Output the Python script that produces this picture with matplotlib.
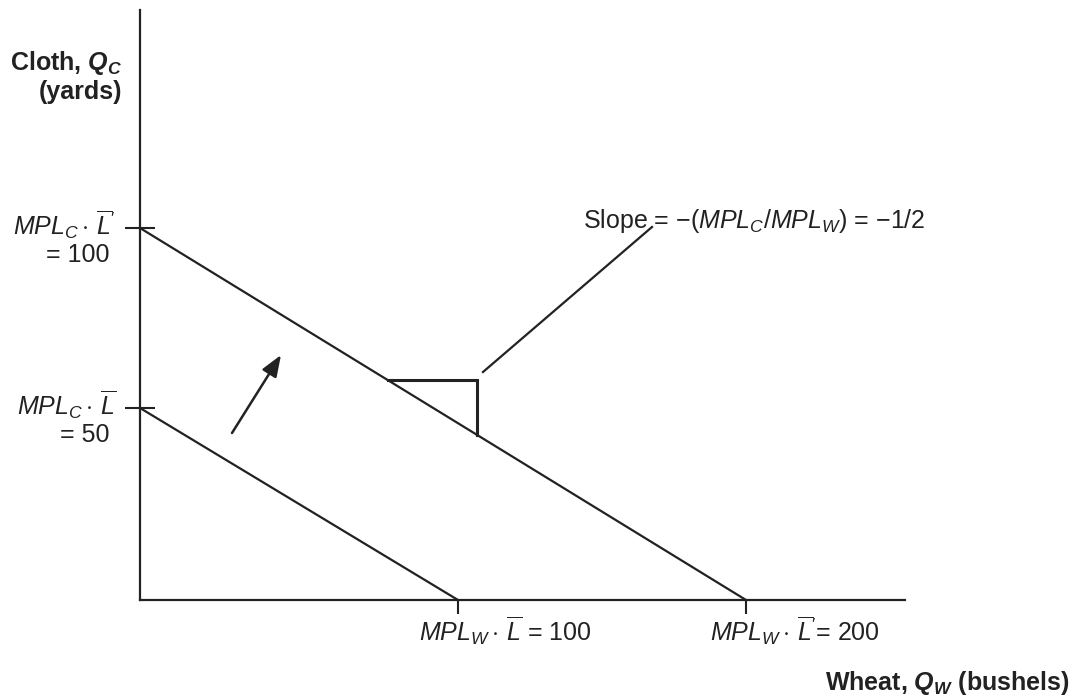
import numpy as np
import matplotlib
matplotlib.use('Agg')
import matplotlib.pyplot as plt
from matplotlib.lines import Line2D

plt.rcParams['font.family'] = ['Liberation Sans', 'DejaVu Sans']
plt.rcParams['mathtext.fontset'] = 'custom'
plt.rcParams['mathtext.rm'] = 'Liberation Sans'
plt.rcParams['mathtext.it'] = 'Liberation Sans:italic'
plt.rcParams['mathtext.bf'] = 'Liberation Sans:bold'
plt.rcParams['mathtext.bfit'] = 'Liberation Sans:bold:italic'

# production possibility frontiers (before / after labour increase)
wheat_max = [100, 200]     # MPL_W * L, MPL_W * L'
cloth_max = [50, 100]      # MPL_C * L, MPL_C * L'
x_tick_labels = [r"$MPL_W\cdot\,\overline{L}$ = 100", r"$MPL_W\cdot\,\overline{L}'$= 200"]
y_tick_labels = [(r"$MPL_C\cdot\,\overline{L}$", "= 50"), (r"$MPL_C\cdot\,\overline{L}'$", "= 100")]

W, H = 1073, 700
fig = plt.figure(figsize=(W / 100, H / 100), dpi=100)


def fx(px):
    return px / W


def fy(py):
    return 1 - py / H


# schematic (not-to-scale) axes, as in the textbook figure
xk = [0, 100, 200, 400]
xp = [0, 318, 606, 1182]
yk = [0, 50, 100, 300]
yp = [0, 192, 372, 1092]

ax = fig.add_axes([fx(140), fy(600), (905 - 140) / W, (600 - 10) / H])
ax.set_xscale('function', functions=(lambda v: np.interp(v, xk, xp),
                                     lambda v: np.interp(v, xp, xk)))
ax.set_yscale('function', functions=(lambda v: np.interp(v, yk, yp),
                                     lambda v: np.interp(v, yp, yk)))
ax.set_xlim(0, np.interp(765, xp, xk))
ax.set_ylim(0, np.interp(590, yp, yk))

for w, c in zip(wheat_max, cloth_max):
    ax.plot([0, w], [c, 0], color='#222222', lw=1.6, clip_on=False)

for side in ['top', 'right']:
    ax.spines[side].set_visible(False)
for side in ['left', 'bottom']:
    ax.spines[side].set_linewidth(1.6)
    ax.spines[side].set_color('#222222')

ax.set_xticks(wheat_max)
ax.set_xticklabels([])
ax.set_yticks(cloth_max)
ax.set_yticklabels([])
ax.tick_params(axis='x', direction='out', length=10, width=1.5, color='#222222')
ax.tick_params(axis='y', direction='inout', length=22, width=1.5, color='#222222')
ax.minorticks_off()

fs = 18
ink = '#222222'

# tick labels
x_centres = [505, 795]
for w, lab, xc in zip(wheat_max, x_tick_labels, x_centres):
    fig.text(fx(xc), fy(631), lab, ha='center', va='center', fontsize=fs, color=ink)
for c, (l1, l2) in zip(cloth_max, y_tick_labels):
    ypx = fig.transFigure.inverted().transform(ax.transData.transform((0, c)))[1]
    fig.text(fx(116), ypx + 3 / H, l1, ha='right', va='center', fontsize=fs, color=ink)
    fig.text(fx(110), ypx - 27 / H, l2, ha='right', va='center', fontsize=fs, color=ink)

# axis titles
fig.text(fx(122), fy(63), r"Cloth, $\mathbfit{Q_C}$", ha='right', va='center',
         fontsize=fs, fontweight='bold', color=ink)
fig.text(fx(122), fy(92), "(yards)", ha='right', va='center',
         fontsize=fs, fontweight='bold', color=ink)
fig.text(fx(1070), fy(683), r"Wheat, $\mathbfit{Q_W}$ (bushels)", ha='right', va='center',
         fontsize=fs, fontweight='bold', color=ink)

# slope triangle on the outer frontier
p0 = ax.transAxes.inverted().transform(ax.transData.transform((0, cloth_max[1])))
p1 = ax.transAxes.inverted().transform(ax.transData.transform((wheat_max[1], 0)))
a = p0 + 0.409 * (p1 - p0)
b = p0 + 0.556 * (p1 - p0)
ax.plot([a[0], b[0], b[0]], [a[1], a[1], b[1]], transform=ax.transAxes,
        color=ink, lw=2.2, solid_joinstyle='miter')

# slope callout
fig.add_artist(Line2D([fx(483), fx(652)], [fy(372), fy(227)], transform=fig.transFigure,
                      color=ink, lw=1.6))
fig.text(fx(583), fy(228), r"Slope = $-$($MPL_C$/$MPL_W$) = $-$1/2", ha='left', va='baseline',
         fontsize=fs, color=ink)

# shift arrow
ax.annotate('', xy=(fx(281), fy(355)), xytext=(fx(232), fy(433)),
            xycoords='figure fraction', textcoords='figure fraction',
            arrowprops=dict(arrowstyle='-|>,head_length=1.3,head_width=0.5',
                            color=ink, lw=1.8, shrinkA=0, shrinkB=0))

fig.savefig('out.png', dpi=100)
